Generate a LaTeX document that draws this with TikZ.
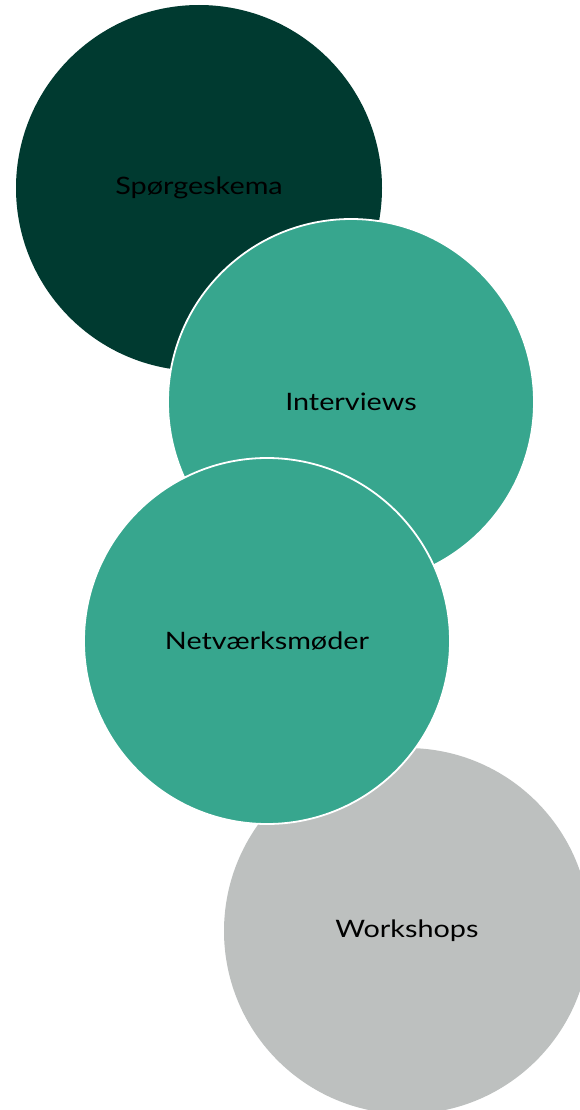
\documentclass[tikz,border=0pt]{standalone}
\usepackage{fontspec}
\setmainfont{Lato}[FakeStretch=1.2]
\definecolor{darkgr}{HTML}{003A30}
\definecolor{teal1}{HTML}{37A68E}
\definecolor{greyc}{HTML}{BDC0BF}
\begin{document}
\begin{tikzpicture}[x=1pt,y=-1pt,
  bubble/.style={circle,minimum size=366pt,inner sep=0pt,draw=white,line width=1.8pt,
    font=\fontsize{24}{28}\selectfont,text=black}]
\useasboundingbox (0,0) rectangle (580,1110);
\begin{scope}
\clip (0,0) rectangle (580,1110);
\node[bubble,fill=darkgr,draw=none] (s) at (199,188) {Spørgeskema};
\node[bubble,fill=greyc,draw=none] (w) at (407,931) {Workshops};
\node[bubble,fill=teal1] (i) at (351,402) {Interviews};
\node[bubble,fill=teal1] (n) at (267,641) {Netværksmøder};
\end{scope}
\end{tikzpicture}
\end{document}
